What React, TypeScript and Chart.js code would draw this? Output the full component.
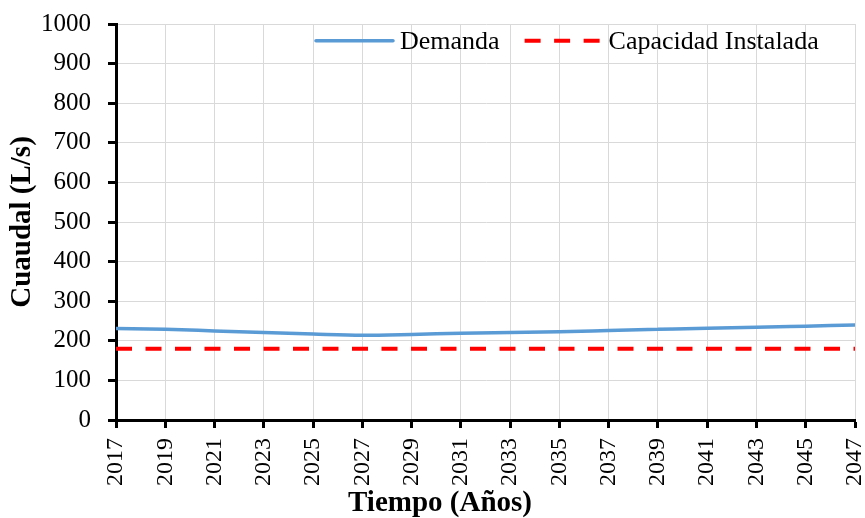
import React, { useEffect, useRef } from 'react';
import { Chart, registerables } from 'chart.js';

Chart.register(...registerables);

const years = [2017, 2019, 2021, 2023, 2025, 2027, 2029, 2031, 2033, 2035, 2037, 2039, 2041, 2043, 2045, 2047];
const demanda = [231, 229, 225, 221, 217, 214, 216, 219, 221, 223, 226, 229, 232, 234, 237, 240];
const capacidadInstalada = [180, 180, 180, 180, 180, 180, 180, 180, 180, 180, 180, 180, 180, 180, 180, 180];
const seriesNames = ['Demanda', 'Capacidad Instalada'];
const xTitle = 'Tiempo (Años)';
const yTitle = 'Cuaudal (L/s)';

const FAMILY = '"Liberation Serif", "Times New Roman", serif';

const legendPlugin = {
  id: 'customLegend',
  afterDraw(chart: any) {
    const ctx = chart.ctx;
    ctx.save();
    ctx.font = `26px ${FAMILY}`;
    ctx.textBaseline = 'middle';
    ctx.textAlign = 'left';
    let x = 316;
    const y = 40.7;
    chart.data.datasets.forEach((ds: any) => {
      ctx.beginPath();
      ctx.setLineDash(ds.borderDash || []);
      ctx.lineWidth = ds.borderWidth;
      ctx.strokeStyle = ds.borderColor;
      ctx.lineCap = ds.borderCapStyle || 'butt';
      ctx.moveTo(x, y);
      ctx.lineTo(x + 77, y);
      ctx.stroke();
      ctx.setLineDash([]);
      ctx.fillStyle = '#000';
      ctx.fillText(ds.label, x + 84, y + 1);
      x += 84 + ctx.measureText(ds.label).width + 25;
    });
    ctx.restore();
  },
};

export default function App() {
  const ref = useRef<HTMLCanvasElement | null>(null);

  useEffect(() => {
    if (!ref.current) return;
    const xTickFont = { family: FAMILY, size: 24 };
    const yTickFont = { family: FAMILY, size: 25 };
    const titleFont = { family: FAMILY, size: 29, weight: 'bold' as const, lineHeight: 1 };
    const chart = new Chart(ref.current, {
      type: 'line',
      data: {
        datasets: [
          {
            label: seriesNames[0],
            data: years.map((yr, i) => ({ x: yr, y: demanda[i] })),
            borderColor: '#5B9BD5',
            borderWidth: 3.5,
            borderCapStyle: 'round',
            pointRadius: 0,
            tension: 0.4,
            cubicInterpolationMode: 'monotone',
          },
          {
            label: seriesNames[1],
            data: years.map((yr, i) => ({ x: yr, y: capacidadInstalada[i] })),
            borderColor: '#FF0000',
            borderWidth: 4,
            borderDash: [16, 13.5],
            pointRadius: 0,
          },
        ],
      },
      options: {
        responsive: false,
        animation: false,
        layout: { padding: { top: 24, right: 10, left: 25, bottom: 0 } },
        plugins: {
          legend: { display: false },
          tooltip: { enabled: false },
          title: {
            display: true,
            position: 'bottom',
            text: xTitle,
            color: '#000',
            font: titleFont,
            padding: 0,
          },
        },
        scales: {
          x: {
            type: 'linear',
            min: 2017,
            max: 2047,
            ticks: {
              stepSize: 2,
              minRotation: 90,
              maxRotation: 90,
              padding: 10,
              color: '#000',
              font: xTickFont,
              callback: (v: any) => String(v),
            },
            grid: { color: '#d9d9d9', lineWidth: 1, tickColor: '#000', tickWidth: 3, tickLength: 8 },
            border: { color: '#000', width: 3 },
            afterFit: (s: any) => {
              s.height = 69;
              s.paddingLeft = 0;
              s.paddingRight = 0;
              s.paddingTop = 0;
              s.paddingBottom = 0;
            },
          },
          y: {
            min: 0,
            max: 1000,
            ticks: {
              stepSize: 100,
              padding: 17,
              color: '#000',
              font: yTickFont,
              callback: (v: any) => String(v),
            },
            grid: { color: '#d9d9d9', lineWidth: 1, tickColor: '#000', tickWidth: 3, tickLength: 8 },
            border: { color: '#000', width: 3 },
            title: {
              display: true,
              text: yTitle,
              color: '#000',
              font: titleFont,
              padding: { top: -16.5, bottom: 0 },
            },
            afterFit: (s: any) => {
              s.width = 91;
              s.paddingLeft = 0;
              s.paddingRight = 0;
              s.paddingTop = 0;
              s.paddingBottom = 0;
            },
          },
        },
      },
      plugins: [legendPlugin],
    });
    return () => chart.destroy();
  }, []);

  return (
    <div style={{ position: 'absolute', left: 0, top: 0, width: 865, height: 518, background: '#fff' }}>
      <canvas ref={ref} width={865} height={518} style={{ width: 865, height: 518, display: 'block' }} />
    </div>
  );
}
